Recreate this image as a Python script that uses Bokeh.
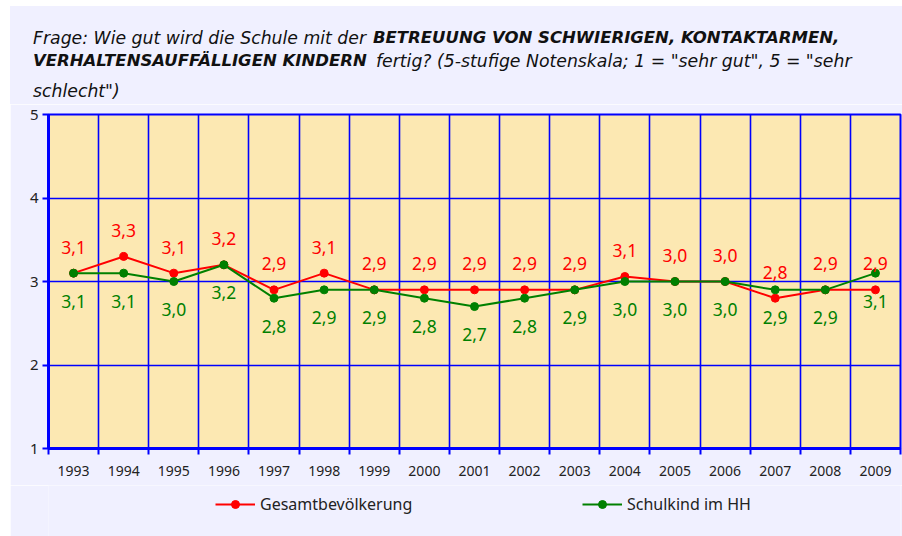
from bokeh.plotting import figure
from bokeh.layouts import column
from bokeh.models import (FixedTicker, Legend, LegendItem, ColumnDataSource, Div)
from bokeh.core.properties import value
from bokeh.embed import file_html
from bokeh.resources import INLINE

years = ["1993", "1994", "1995", "1996", "1997", "1998", "1999", "2000", "2001",
         "2002", "2003", "2004", "2005", "2006", "2007", "2008", "2009"]
gesamt = [3.1, 3.3, 3.1, 3.2, 2.9, 3.1, 2.9, 2.9, 2.9, 2.9, 2.9, 3.06, 3.0, 3.0, 2.8, 2.9, 2.9]
schulkind = [3.1, 3.1, 3.0, 3.2, 2.8, 2.9, 2.9, 2.8, 2.7, 2.8, 2.9, 3.0, 3.0, 3.0, 2.9, 2.9, 3.1]
y_ticks = [1, 2, 3, 4, 5]
series_names = ["Gesamtbevölkerung", "Schulkind im HH"]

title_line1 = ("Frage: Wie gut wird die Schule mit der", "BETREUUNG VON SCHWIERIGEN, KONTAKTARMEN,")
title_line2 = ("VERHALTENSAUFFÄLLIGEN KINDERN", "fertig? (5-stufige Notenskala; 1 = \"sehr gut\", 5 = \"sehr")
title_line3 = "schlecht\")"

FONT = "Noto Sans"
TITLE_FONT = "DejaVu Sans"
BLUE = "#0000FF"
RED = "#FF0000"
GREEN = "#008000"
LAVENDER = "#F0F0FF"

def fmt(v):
    return f"{v:.1f}".replace(".", ",")

xs = [i + 0.5 for i in range(len(years))]
src = ColumnDataSource(dict(
    x=xs, g=gesamt, s=schulkind,
    gl=[fmt(v) for v in gesamt], sl=[fmt(v) for v in schulkind],
))

# ---- title as HTML (mixed italic / bold italic) ----
def piece(txt, left, top, bold):
    weight = "bold" if bold else "normal"
    size = "16.5px" if bold else "17.3px"
    return (f'<div style="position:absolute; left:{left}px; top:{top}px; white-space:nowrap; '
            f'font-weight:{weight}; font-size:{size};">{txt}</div>')

title_html = (
    f'<div style="position:relative; width:892px; height:98px; background:{LAVENDER}; '
    f'font-family:\'{TITLE_FONT}\'; font-style:italic; line-height:20px; color:#111111;">'
    + piece(title_line1[0], 23, 22, False)
    + piece(title_line1[1], 363, 22, True)
    + piece(title_line2[0], 23, 45, True)
    + piece(title_line2[1], 366, 45, False)
    + piece(title_line3, 23, 75, False)
    + '</div>'
)
title_div = Div(text=title_html, width=892, height=98, margin=(6, 0, 0, 10))

# ---- chart ----
p = figure(width=892, height=381, output_backend="svg", toolbar_location=None,
           x_range=(0, len(years)), y_range=(y_ticks[0], y_ticks[-1]),
           min_border_left=38, min_border_right=2, min_border_top=10, min_border_bottom=37,
           margin=(0, 0, 0, 10))
p.background_fill_color = "#FCE8B2"
p.border_fill_color = LAVENDER
p.outline_line_color = BLUE
p.outline_line_width = 2

p.xaxis.ticker = FixedTicker(ticks=xs, minor_ticks=list(range(len(years) + 1)))
p.xaxis.major_label_overrides = {x: y for x, y in zip(xs, years)}
p.xaxis.major_tick_in = 0
p.xaxis.major_tick_out = 0
p.xaxis.minor_tick_in = 0
p.xaxis.minor_tick_out = 6
p.xaxis.minor_tick_line_color = BLUE
p.xaxis.minor_tick_line_width = 2
p.xaxis.axis_line_color = BLUE
p.xaxis.axis_line_width = 3
p.xaxis.major_label_standoff = 11
p.xaxis.major_label_text_font = FONT
p.xaxis.major_label_text_font_size = "14px"
p.xaxis.major_label_text_color = "#222222"

p.yaxis.ticker = FixedTicker(ticks=y_ticks)
p.yaxis.major_tick_in = 0
p.yaxis.major_tick_out = 6
p.yaxis.major_tick_line_color = BLUE
p.yaxis.major_tick_line_width = 2
p.yaxis.axis_line_color = BLUE
p.yaxis.axis_line_width = 3
p.yaxis.major_label_standoff = 4
p.yaxis.major_label_text_font = FONT
p.yaxis.major_label_text_font_size = "15px"
p.yaxis.major_label_text_color = "#222222"

p.xgrid.ticker = FixedTicker(ticks=list(range(len(years) + 1)))
p.ygrid.ticker = FixedTicker(ticks=y_ticks)
for gr in (p.xgrid, p.ygrid):
    gr.grid_line_color = BLUE
    gr.grid_line_width = 1.6

p.line("x", "g", source=src, line_color=RED, line_width=2)
p.scatter("x", "g", source=src, size=8, fill_color=RED, line_color=RED)
p.line("x", "s", source=src, line_color=GREEN, line_width=2)
p.scatter("x", "s", source=src, size=8, fill_color=GREEN, line_color=GREEN)

p.text("x", "g", text="gl", source=src, y_offset=-26, text_align="center",
       text_baseline="middle", text_color=RED, text_font=value(FONT), text_font_size="17.5px")
p.text("x", "s", text="sl", source=src, y_offset=28, text_align="center",
       text_baseline="middle", text_color=GREEN, text_font=value(FONT), text_font_size="17.5px")

# ---- legend strip: a small figure; the series are drawn there too but fall
# outside its y range, so only the legend shows ----
lg = figure(width=892, height=51, output_backend="svg", toolbar_location=None,
            x_range=(0, len(years)), y_range=(-10, -9), min_border=0, margin=(0, 0, 0, 10),
            x_axis_location=None, y_axis_location=None)
lg.grid.visible = False
lg.background_fill_color = LAVENDER
lg.border_fill_color = LAVENDER
lg.outline_line_color = None
lr1 = lg.line("x", "g", source=src, line_color=RED, line_width=2)
lp1 = lg.scatter("x", "g", source=src, size=8, fill_color=RED, line_color=RED)
lr2 = lg.line("x", "s", source=src, line_color=GREEN, line_width=2)
lp2 = lg.scatter("x", "s", source=src, size=8, fill_color=GREEN, line_color=GREEN)

FRAME_LEFT = 48  # the column aligns this strip's frame with the chart's frame

def make_legend(label, rends, px):
    return Legend(items=[LegendItem(label=label, renderers=rends)],
                  location=(px - FRAME_LEFT, 21), orientation="horizontal",
                  glyph_width=40, label_standoff=5, padding=0, margin=0,
                  label_text_font=FONT, label_text_font_size="16px", label_text_color="#222222",
                  background_fill_alpha=0, border_line_alpha=0)

lg.add_layout(make_legend(series_names[0], [lr1, lp1], 215))
lg.add_layout(make_legend(series_names[1], [lr2, lp2], 582))

layout = column(title_div, p, lg, spacing=0)
open("out.html", "w").write(file_html(layout, INLINE))
